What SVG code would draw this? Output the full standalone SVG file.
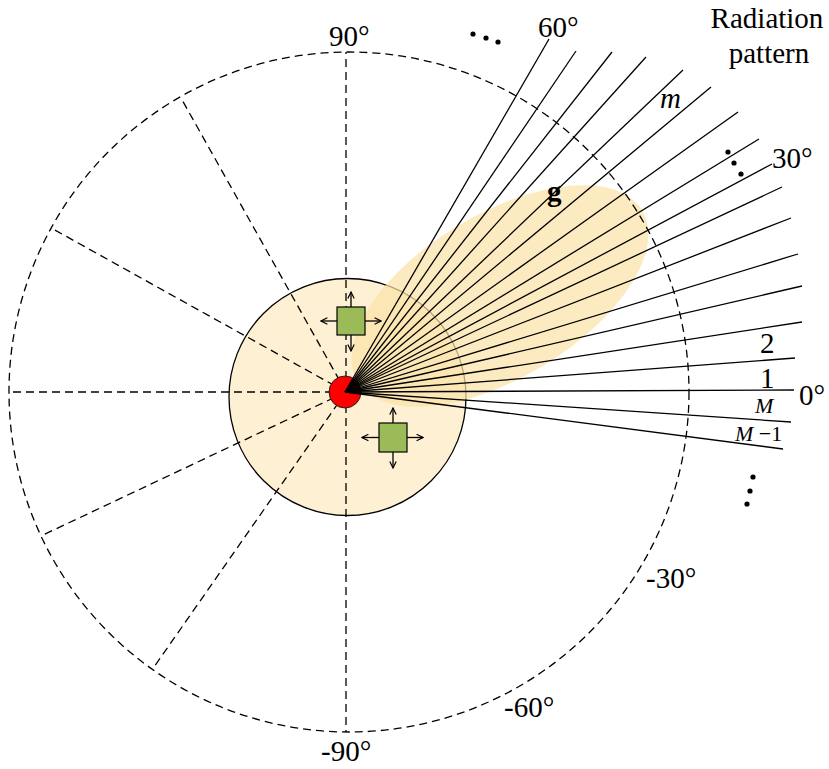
<svg xmlns="http://www.w3.org/2000/svg" width="829" height="769" viewBox="0 0 829 769">
<style>
.dash{fill:none;stroke:#000;stroke-width:1.3;stroke-dasharray:8,5}
.ray{stroke:#000;stroke-width:1.3}
.lbl{font-family:"Liberation Serif","Times New Roman",serif;font-size:29px;fill:#000}
.sm{font-family:"Liberation Serif","Times New Roman",serif;font-size:22px;fill:#000}
.it{font-style:italic}
.sq{fill:#9BBB59;stroke:#000;stroke-width:1.2}
.arr{stroke:#000;stroke-width:1.3;marker-end:url(#ah)}
.dot{fill:#000}
</style>
<defs>
<marker id="ah" viewBox="0 0 10 10" refX="9" refY="5" markerWidth="8" markerHeight="8" orient="auto" markerUnits="userSpaceOnUse">
<path d="M1,1 L9,5 L1,9" fill="none" stroke="#000" stroke-width="1.5"/>
</marker>
</defs>
<rect width="829" height="769" fill="#fff"/>
<g id="coverage">
<circle cx="347.5" cy="397" r="118.5" fill="#FEF1D3" stroke="#000" stroke-width="1.3"/>
</g>
<g id="lobe">
<ellipse cx="500" cy="296" rx="166" ry="82" transform="rotate(-31 500 296)" fill="#FBE3A8" fill-opacity="0.72"/>
</g>
<g id="grid">
<ellipse class="dash" cx="349" cy="392" rx="340" ry="340"/>
<line class="dash" x1="346" y1="392" x2="346" y2="52"/>
<line class="dash" x1="346" y1="392" x2="181" y2="98"/>
<line class="dash" x1="346" y1="392" x2="53" y2="229"/>
<line class="dash" x1="346" y1="392" x2="9" y2="392"/>
<line class="dash" x1="346" y1="392" x2="43" y2="535"/>
<line class="dash" x1="346" y1="392" x2="154" y2="667"/>
<line class="dash" x1="346" y1="392" x2="346" y2="732"/>
</g>
<g id="source">
<circle cx="345" cy="392" r="16" fill="#FF0000" stroke="#222" stroke-width="1"/>
</g>
<g id="connectors">
<line class="ray" x1="345" y1="392" x2="549" y2="39"/>
<line class="ray" x1="345" y1="392" x2="576" y2="51"/>
<line class="ray" x1="345" y1="392" x2="612" y2="52"/>
<line class="ray" x1="345" y1="392" x2="646" y2="57"/>
<line class="ray" x1="345" y1="392" x2="683" y2="70"/>
<line class="ray" x1="345" y1="392" x2="711" y2="87"/>
<line class="ray" x1="345" y1="392" x2="738" y2="112"/>
<line class="ray" x1="345" y1="392" x2="759" y2="139"/>
<line class="ray" x1="345" y1="392" x2="772" y2="164"/>
<line class="ray" x1="345" y1="392" x2="782" y2="187"/>
<line class="ray" x1="345" y1="392" x2="791" y2="218"/>
<line class="ray" x1="345" y1="392" x2="798" y2="254"/>
<line class="ray" x1="345" y1="392" x2="802" y2="286"/>
<line class="ray" x1="345" y1="392" x2="802" y2="322"/>
<line class="ray" x1="345" y1="392" x2="795" y2="358"/>
<line class="ray" x1="345" y1="392" x2="794" y2="390"/>
<line class="ray" x1="345" y1="392" x2="791" y2="422"/>
<line class="ray" x1="345" y1="392" x2="783" y2="449"/>
</g>
<g id="user1">
<line class="arr" x1="351" y1="307" x2="351" y2="292"/>
<line class="arr" x1="351" y1="335" x2="351" y2="351"/>
<line class="arr" x1="337" y1="321" x2="321" y2="321"/>
<line class="arr" x1="365" y1="321" x2="381" y2="321"/>
<rect class="sq" x="337" y="307" width="28" height="28"/>
</g>
<g id="user2">
<line class="arr" x1="393" y1="423" x2="393" y2="408"/>
<line class="arr" x1="393" y1="452" x2="393" y2="468"/>
<line class="arr" x1="379" y1="437.5" x2="362" y2="437.5"/>
<line class="arr" x1="407" y1="437.5" x2="423" y2="437.5"/>
<rect class="sq" x="379" y="423" width="28" height="29"/>
</g>
<g id="labels">
<text class="lbl" x="329" y="46">90°</text>
<text class="lbl" x="538" y="37">60°</text>
<text class="lbl" x="772" y="168">30°</text>
<text class="lbl" x="799" y="405">0°</text>
<text class="lbl" x="646" y="588">-30°</text>
<text class="lbl" x="504" y="717">-60°</text>
<text class="lbl" x="321" y="761">-90°</text>
<text class="lbl" x="767" y="28" text-anchor="middle">Radiation</text>
<text class="lbl" x="769" y="63" text-anchor="middle">pattern</text>
<text class="lbl it" x="660" y="108" font-size="27">m</text>
<text class="lbl" x="547" y="201" font-weight="bold">g</text>
<text class="lbl" x="760" y="353">2</text>
<text class="lbl" x="760" y="388">1</text>
<text class="sm it" x="755" y="413">M</text>
<text class="sm" x="735" y="441"><tspan class="it">M</tspan> −1</text>
</g>
<g id="ellipsis-dots">
<circle class="dot" cx="473" cy="34" r="2.6"/>
<circle class="dot" cx="486" cy="38" r="2.6"/>
<circle class="dot" cx="498" cy="42" r="2.6"/>
<circle class="dot" cx="728" cy="152" r="2.6"/>
<circle class="dot" cx="734" cy="163" r="2.6"/>
<circle class="dot" cx="741" cy="174" r="2.6"/>
<circle class="dot" cx="753" cy="477" r="2.6"/>
<circle class="dot" cx="750" cy="491" r="2.6"/>
<circle class="dot" cx="747" cy="504" r="2.6"/>
</g>
</svg>
